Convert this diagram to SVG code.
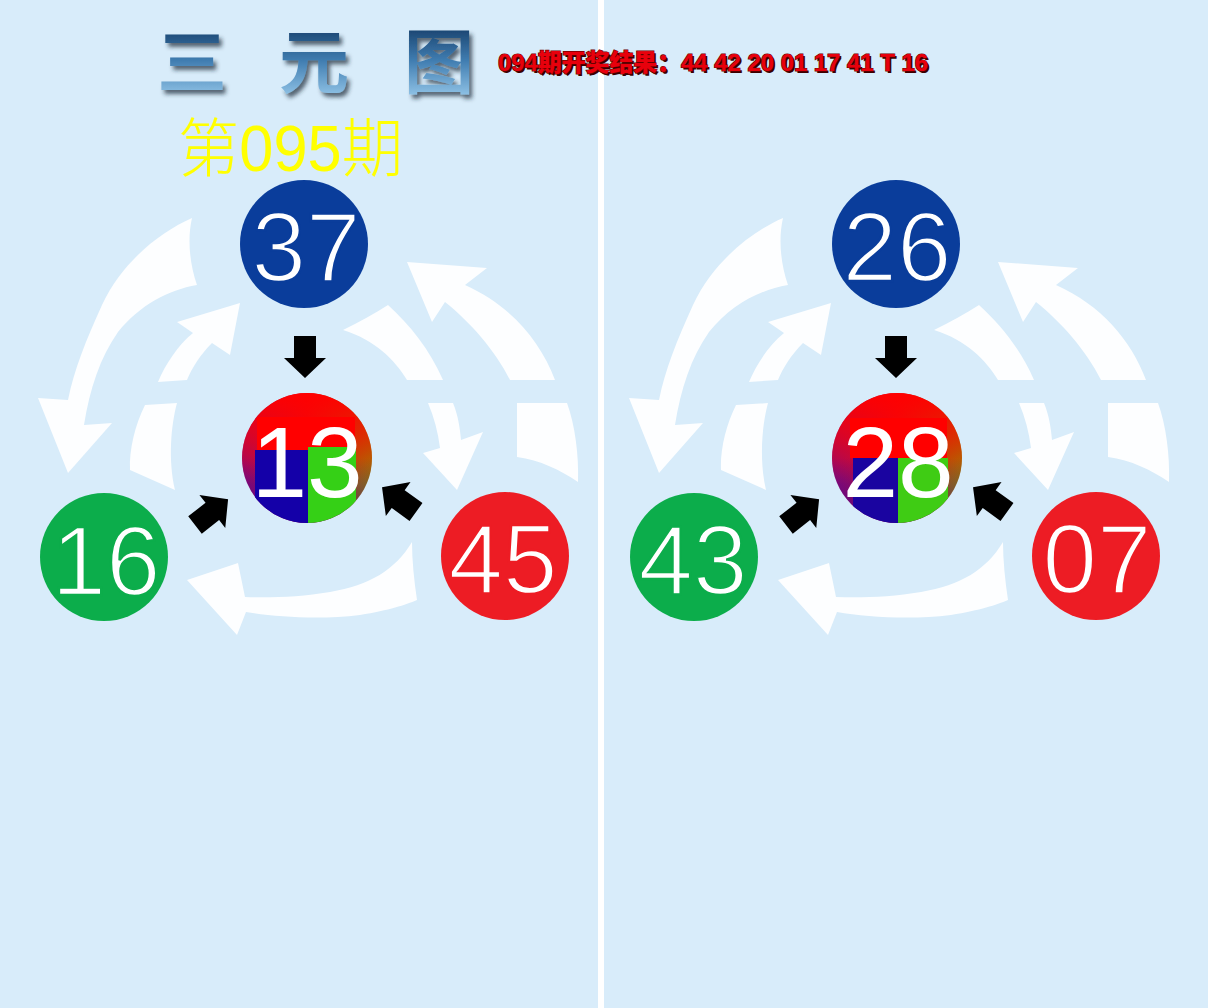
<svg xmlns="http://www.w3.org/2000/svg" xmlns:xlink="http://www.w3.org/1999/xlink" width="1208" height="1008" viewBox="0 0 1208 1008">
<style>
.ball{stroke:none}
.num{font-family:"Liberation Sans",Arial,sans-serif;fill:#ffffff;text-anchor:middle;stroke-width:2.4}
.nb{stroke:#0a3d9b}
.ng{stroke:#0cad4b}
.nr{stroke:#ed1c24}
.wa{fill:#ffffff;fill-opacity:0.93}
.ba{fill:#000000}
.cjk{font-family:"Liberation Sans","Noto Sans CJK SC","Noto Sans CJK JP",sans-serif}
</style>
<defs>
<linearGradient id="titleG" x1="0" y1="0" x2="0" y2="1">
<stop offset="0" stop-color="#173f6a"/>
<stop offset="0.45" stop-color="#3f7cb0"/>
<stop offset="1" stop-color="#9fd0f0"/>
</linearGradient>
<filter id="tshadow" x="-20%" y="-20%" width="140%" height="140%">
<feDropShadow dx="3" dy="4" stdDeviation="2" flood-color="#1a2838" flood-opacity="0.7"/>
</filter>
<linearGradient id="cH" x1="0" y1="0" x2="1" y2="0">
<stop offset="0" stop-color="#8a0a78"/>
<stop offset="0.5" stop-color="#e0101a"/>
<stop offset="1" stop-color="#958a00"/>
</linearGradient>
<linearGradient id="cV" x1="0" y1="0" x2="0" y2="1">
<stop offset="0" stop-color="#ff0000" stop-opacity="1"/>
<stop offset="0.35" stop-color="#ff0000" stop-opacity="0.6"/>
<stop offset="0.7" stop-color="#ff0000" stop-opacity="0"/>
</linearGradient>
<linearGradient id="cB" x1="0" y1="0" x2="0" y2="1">
<stop offset="0.5" stop-color="#2000a0" stop-opacity="0"/>
<stop offset="1" stop-color="#2000a0" stop-opacity="0.6"/>
</linearGradient>
<clipPath id="clipL"><circle cx="307" cy="458" r="65"/></clipPath>
<clipPath id="clipR"><circle cx="897" cy="458" r="65"/></clipPath>
<path id="barr" d="M0,-11 L22,-11 L22,-21 L42,0 L22,21 L22,11 L0,11 Z"/>
<g id="ring">
<path class="wa" d="M192,218 C160,232 122,262 102,305 C86,340 74,370 68,400 L38,398 L68,473 L112,423 L84,425 C90,388 100,358 118,332 C140,305 168,290 197,285 C190,265 187,240 192,218 Z"/>
<path class="wa" d="M158,382 C165,365 178,345 193,333 L177,322 L240,303 L230,355 L212,343 C200,355 192,368 187,380 Z"/>
<path class="wa" d="M145,405 L177,403 C171,425 168,460 175,490 L130,470 C129,450 135,425 145,405 Z"/>
<path class="wa" d="M555,380 C540,340 510,305 465,285 L487,268 L407,262 L432,322 L445,302 C470,322 495,350 510,380 Z"/>
<path class="wa" d="M517,403 L567,403 C575,425 579,455 578,482 C560,470 540,460 517,457 Z"/>
<path class="wa" d="M343,330 C360,322 375,313 388,305 C410,325 430,350 443,380 L407,380 C395,360 375,340 343,330 Z"/>
<path class="wa" d="M428,403 L453,403 C458,415 460,428 461,440 L483,432 L457,490 L423,453 L440,448 C438,432 434,417 428,403 Z"/>
<path class="wa" d="M412,542 C395,570 370,585 330,592 C300,597 270,598 245,597 L238,563 L187,580 L237,635 L246,612 C275,617 320,620 360,615 C390,610 405,605 417,600 C414,580 412,560 412,542 Z"/>
</g>
</defs>

<rect x="0" y="0" width="1208" height="1008" fill="#d8ecfa"/>
<rect x="598" y="0" width="6" height="1008" fill="#ffffff"/>

<g id="title" filter="url(#tshadow)">
<text class="cjk" x="157 279 404" y="88" font-weight="bold" font-size="70" fill="url(#titleG)">三元图</text>
</g>
<g id="issue">
<text class="cjk" x="178" y="171" font-weight="300" font-size="64" fill="#ffff00" textLength="225" lengthAdjust="spacingAndGlyphs">第095期</text>
</g>
<g id="result">
<text class="cjk" x="500" y="73" font-weight="900" font-size="24" fill="#3a0000" textLength="430" lengthAdjust="spacingAndGlyphs">094期开奖结果：44 42 20 01 17 41 T 16</text>
<text class="cjk" x="498" y="71" font-weight="900" font-size="24" fill="#e8000c" stroke="#6a0000" stroke-width="1.2" paint-order="stroke" textLength="430" lengthAdjust="spacingAndGlyphs">094期开奖结果：44 42 20 01 17 41 T 16</text>
</g>

<g id="connectors">
<use xlink:href="#ring" href="#ring"/>
<use xlink:href="#ring" href="#ring" transform="translate(591,0)"/>
<use class="ba" xlink:href="#barr" href="#barr" transform="translate(305,336) rotate(90)"/>
<use class="ba" xlink:href="#barr" href="#barr" transform="translate(195,525) rotate(-38)"/>
<use class="ba" xlink:href="#barr" href="#barr" transform="translate(416,512) rotate(-144)"/>
<use class="ba" xlink:href="#barr" href="#barr" transform="translate(896,336) rotate(90)"/>
<use class="ba" xlink:href="#barr" href="#barr" transform="translate(786,525) rotate(-38)"/>
<use class="ba" xlink:href="#barr" href="#barr" transform="translate(1007,512) rotate(-144)"/>
</g>

<g id="node-37">
<circle class="ball" cx="304" cy="244" r="64" fill="#0a3d9b"/>
<text class="num nb" x="306" y="281" font-size="98">37</text>
</g>
<g id="node-16">
<circle class="ball" cx="104" cy="557" r="64" fill="#0cad4b"/>
<text class="num ng" x="106" y="595" font-size="98">16</text>
</g>
<g id="node-45">
<circle class="ball" cx="505" cy="556" r="64" fill="#ed1c24"/>
<text class="num nr" x="503" y="593" font-size="98">45</text>
</g>
<g id="node-13">
<g clip-path="url(#clipL)">
<rect x="240" y="392" width="134" height="132" fill="url(#cH)"/>
<rect x="240" y="392" width="134" height="132" fill="url(#cV)"/>
<rect x="240" y="392" width="134" height="132" fill="url(#cB)"/>
<rect x="257" y="417" width="98" height="42" fill="#ff0000"/>
<rect x="255" y="450" width="53" height="80" fill="#1400a8"/>
<rect x="308" y="447" width="48" height="83" fill="#35d016"/>
</g>
<text class="num" x="307" y="497" font-size="100">13</text>
</g>

<g id="node-26">
<circle class="ball" cx="896" cy="244" r="64" fill="#0a3d9b"/>
<text class="num nb" x="897" y="281" font-size="98">26</text>
</g>
<g id="node-43">
<circle class="ball" cx="694" cy="557" r="64" fill="#0cad4b"/>
<text class="num ng" x="693" y="594" font-size="98">43</text>
</g>
<g id="node-07">
<circle class="ball" cx="1096" cy="556" r="64" fill="#ed1c24"/>
<text class="num nr" x="1097" y="593" font-size="98">07</text>
</g>
<g id="node-28">
<g clip-path="url(#clipR)">
<rect x="830" y="392" width="134" height="132" fill="url(#cH)"/>
<rect x="830" y="392" width="134" height="132" fill="url(#cV)"/>
<rect x="830" y="392" width="134" height="132" fill="url(#cB)"/>
<rect x="850" y="418" width="97" height="40" fill="#ff0000"/>
<rect x="853" y="458" width="45" height="72" fill="#1a04a0"/>
<rect x="898" y="458" width="50" height="72" fill="#3fcc14"/>
</g>
<text class="num" x="898" y="497" font-size="100">28</text>
</g>
</svg>
